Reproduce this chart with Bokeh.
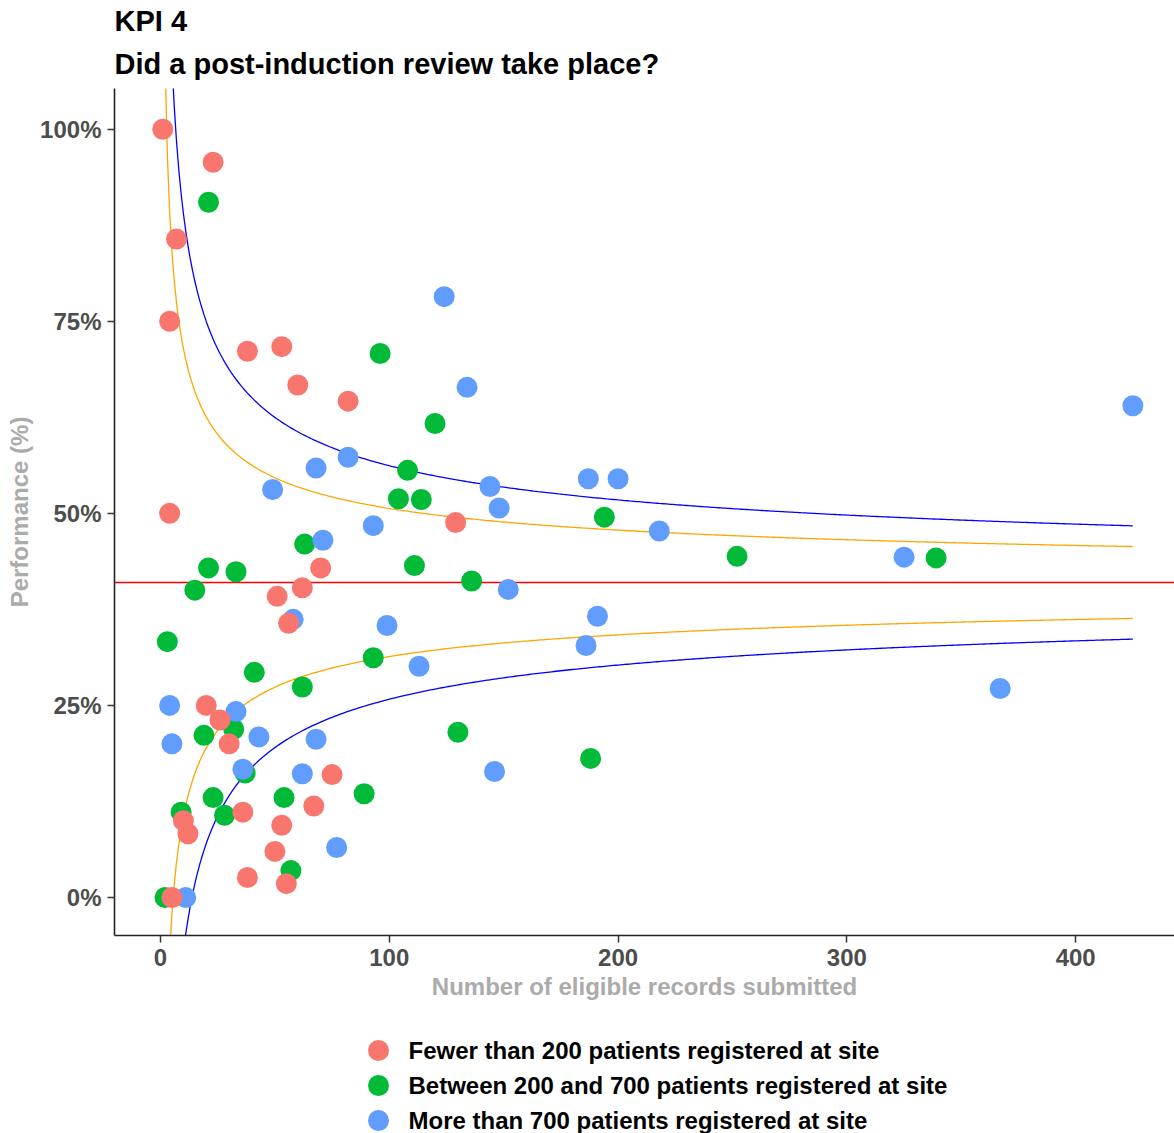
import numpy as np
from bokeh.plotting import figure
from bokeh.layouts import column
from bokeh.models import (Range1d, Span, Title, NumeralTickFormatter, FixedTicker)
from bokeh.core.properties import value
from bokeh.embed import file_html
from bokeh.resources import INLINE

# ---- data: records submitted (n) and performance (%) per site, by site size ----
small_n = [1, 23, 7, 4, 38, 53, 60, 82, 4, 129, 70, 62, 51, 56, 20, 26, 30, 75,
           36, 67, 10, 12, 53, 50, 38, 55, 5]
small_pct = [100, 95.7, 85.7, 75, 71.1, 71.7, 66.7, 64.6, 50, 48.8, 42.9, 40.3,
             39.2, 35.7, 25, 23.1, 20, 16, 11.1, 11.9, 10, 8.3, 9.4, 6, 2.6, 1.8, 0]

mid_n = [21, 96, 120, 108, 104, 114, 194, 252, 111, 136, 93, 130, 188, 89, 339,
         63, 21, 33, 15, 3, 41, 62, 19, 32, 37, 23, 54, 9, 28, 57, 2]
mid_pct = [90.5, 70.8, 61.7, 55.6, 51.9, 51.8, 49.5, 44.4, 43.2, 41.2, 31.2, 21.5,
           18.1, 13.5, 44.2, 46.0, 42.9, 42.4, 40, 33.3, 29.3, 27.4, 21.1, 21.9,
           16.2, 13.0, 13.0, 11.1, 10.7, 3.5, 0]

large_n = [124, 134, 82, 68, 49, 144, 148, 187, 200, 218, 93, 152, 99, 191, 186,
           113, 146, 425, 325, 367, 71, 58, 4, 33, 5, 43, 68, 36, 62, 77, 11]
large_pct = [78.2, 66.4, 57.3, 55.9, 53.1, 53.5, 50.7, 54.5, 54.5, 47.7, 48.4,
             40.1, 35.4, 36.6, 32.8, 30.1, 16.4, 64.0, 44.3, 27.2, 46.5, 36.2,
             25, 24.2, 20, 20.9, 20.6, 16.7, 16.1, 6.5, 0]

group_labels = ["Fewer than 200 patients registered at site",
                "Between 200 and 700 patients registered at site",
                "More than 700 patients registered at site"]
group_colors = ["#F8766D", "#00BA38", "#619CFF"]

mean_performance = 0.41          # overall proportion
z_inner, z_outer = 1.96, 3.09    # 95% and 99.8% control limits

x_ticks = [0, 100, 200, 300, 400]
y_ticks = [0, 0.25, 0.5, 0.75, 1.0]

FONT = "Liberation Sans"
W = 1174
LEFT = 114

p = figure(width=W, height=1030, output_backend="svg", toolbar_location=None,
           title=None,
           x_range=Range1d(-20.1, 443.2), y_range=Range1d(-0.0495, 1.053),
           min_border_left=LEFT, min_border_right=0, min_border_top=88,
           min_border_bottom=95)
p.outline_line_color = None
p.xgrid.visible = False
p.ygrid.visible = False
p.background_fill_color = "white"
p.border_fill_color = "white"

# ---- funnel control limits ----
n_max = max(small_n + mid_n + large_n)
n_grid = np.arange(1, n_max + 1)
se = np.sqrt(mean_performance * (1 - mean_performance) / n_grid)
for z, col in ((z_outer, "#0000FF"), (z_inner, "#FFA500")):
    p.line(n_grid, mean_performance + z * se, line_color=col, line_width=1.3)
    p.line(n_grid, mean_performance - z * se, line_color=col, line_width=1.3)

p.add_layout(Span(location=mean_performance, dimension="width",
                  line_color="#FF0000", line_width=1.3, level="underlay"))

# ---- site points ----
groups = [(small_n, small_pct), (mid_n, mid_pct), (large_n, large_pct)]
for idx in (1, 2, 0):
    n, pct = groups[idx]
    p.scatter(n, [v / 100 for v in pct], size=21,
              fill_color=group_colors[idx], line_color=None)

# ---- axes ----
p.xaxis.ticker = FixedTicker(ticks=x_ticks)
p.yaxis.ticker = FixedTicker(ticks=y_ticks)
p.yaxis.formatter = NumeralTickFormatter(format="0%")
p.xaxis.axis_label = "Number of eligible records submitted"
p.yaxis.axis_label = "Performance (%)"
for ax in (p.xaxis[0], p.yaxis[0]):
    ax.axis_line_color = "#222222"
    ax.axis_line_width = 1.6
    ax.major_tick_line_color = "#333333"
    ax.major_tick_line_width = 1.5
    ax.major_tick_out = 7
    ax.major_tick_in = 0
    ax.minor_tick_line_color = None
    ax.major_label_text_font = FONT
    ax.major_label_text_font_size = "24px"
    ax.major_label_text_font_style = "bold"
    ax.major_label_text_color = "#4D4D4D"
    ax.major_label_standoff = 6
    ax.axis_label_text_font = FONT
    ax.axis_label_text_font_size = "24px"
    ax.axis_label_text_font_style = "bold"
    ax.axis_label_text_color = "#ABABAB"
    ax.axis_label_standoff = 4

# ---- titles ----
p.add_layout(Title(text="Did a post-induction review take place?", align="left",
                   text_font=FONT, text_font_size="29px", text_font_style="bold",
                   text_color="black", standoff=17), "above")
p.add_layout(Title(text="KPI 4", align="left",
                   text_font=FONT, text_font_size="29px", text_font_style="bold",
                   text_color="black", standoff=1), "above")

# ---- legend strip below the chart (x in page pixels) ----
LH = 103
leg = figure(width=W, height=LH, output_backend="svg", toolbar_location=None,
             title=None, x_range=Range1d(LEFT, W), y_range=Range1d(LH, 0),
             x_axis_type=None, y_axis_type=None,
             min_border_left=LEFT, min_border_right=0, min_border_top=0,
             min_border_bottom=0)
leg.outline_line_color = None
leg.xgrid.visible = False
leg.ygrid.visible = False
leg.border_fill_color = "white"

key_x = 378
row_y = [20 + 35 * i for i in range(len(group_labels))]
leg.scatter([key_x] * len(group_labels), row_y, size=21,
            fill_color=group_colors, line_color=None)
leg.text([key_x + 30] * len(group_labels), row_y, text=group_labels,
         text_font=value(FONT), text_font_size="24px", text_font_style="bold",
         text_color="black", text_baseline="middle", text_align="left")

layout = column(p, leg, spacing=0)
open("out.html", "w").write(file_html(layout, INLINE))
